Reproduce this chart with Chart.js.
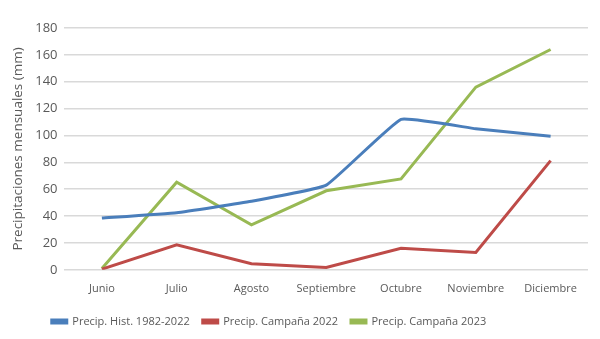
<!DOCTYPE html>
<html lang="es">
<head>
  <meta charset="UTF-8">
  <title>Precipitaciones mensuales</title>
  <script src="https://cdn.jsdelivr.net/npm/chart.js"></script>
  <style>
    html, body { margin: 0; padding: 0; background: #fff; }
    #wrap { width: 600px; height: 339px; }
  </style>
</head>
<body>
<div id="wrap"><canvas id="chart" width="600" height="339"></canvas></div>
<script>
const meses = ["Junio", "Julio", "Agosto", "Septiembre", "Octubre", "Noviembre", "Diciembre"];
const historica = [38.5, 42.5, 51, 63, 112, 105, 99.5];
const campana2022 = [0.5, 18.6, 4.5, 1.7, 16, 12.9, 81.3];
const campana2023 = [1, 65.2, 33.5, 58.8, 67.7, 136, 164];
const yTicks = [0, 20, 40, 60, 80, 100, 120, 140, 160, 180];

const gris = '#595959';
Chart.defaults.font.family = "'Open Sans', 'Liberation Sans', sans-serif";
Chart.defaults.color = gris;

// la leyenda de la referencia queda algo a la izquierda del centro y un poco mas abajo
const moverLeyenda = {
  id: 'moverLeyenda',
  afterLayout(chart) {
    const lg = chart.legend;
    if (!lg || lg._movida) return;
    const orig = lg.draw;
    lg.draw = function (area) {
      const ctx = this.ctx;
      ctx.save();
      ctx.translate(-28, 4);
      orig.call(this, area);
      ctx.restore();
    };
    lg._movida = true;
  }
};

new Chart(document.getElementById('chart'), {
  type: 'line',
  data: {
    labels: meses,
    datasets: [
      { label: 'Precip. Hist. 1982-2022', data: historica, borderColor: '#4a7ebb', backgroundColor: '#4a7ebb', borderWidth: 3, tension: 0.1, pointRadius: 0 },
      { label: 'Precip. Campaña 2022', data: campana2022, borderColor: '#be4b48', backgroundColor: '#be4b48', borderWidth: 3, tension: 0, pointRadius: 0 },
      { label: 'Precip. Campaña 2023', data: campana2023, borderColor: '#98b954', backgroundColor: '#98b954', borderWidth: 3, tension: 0, pointRadius: 0 }
    ]
  },
  options: {
    responsive: false,
    animation: false,
    layout: { padding: { top: 28, right: 12, left: 6, bottom: 6 } },
    plugins: {
      legend: {
        position: 'bottom',
        labels: { boxWidth: 15, boxHeight: 3, font: { size: 11 }, padding: 13 }
      },
      tooltip: { enabled: false }
    },
    scales: {
      x: {
        offset: true,
        grid: { display: false },
        border: { display: false },
        ticks: { font: { size: 11 }, maxRotation: 0, autoSkip: false, padding: 4 }
      },
      y: {
        min: 0, max: 180,
        afterBuildTicks: axis => { axis.ticks = yTicks.map(v => ({ value: v })); },
        grid: { color: '#d9d9d9', lineWidth: 1.5, drawTicks: false },
        border: { display: false },
        ticks: { font: { size: 13 }, padding: 7 },
        title: { display: true, text: 'Precipitaciones mensuales (mm)', font: { size: 13.5 }, padding: { top: 4, bottom: 2 } }
      }
    }
  },
  plugins: [moverLeyenda]
});
</script>
</body>
</html>
